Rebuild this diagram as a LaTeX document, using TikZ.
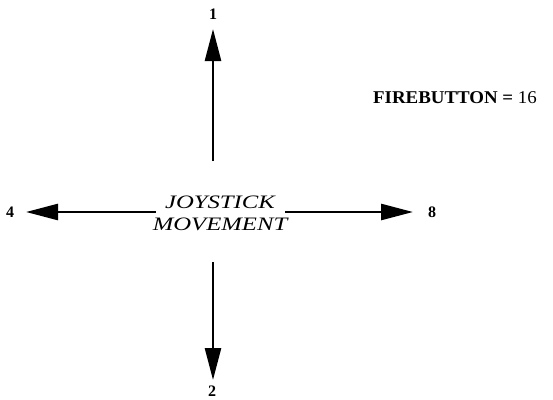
\documentclass[tikz,border=0pt]{standalone}
\usepackage{fontspec}
\setmainfont{Liberation Serif}
\usetikzlibrary{arrows.meta}

\begin{document}
\begin{tikzpicture}[x=1pt, y=-1pt, every node/.style={font=\fontsize{16}{17}\selectfont\bfseries}]
\useasboundingbox (0,0) rectangle (553,399);
\tikzset{dirarrow/.style={line width=2.6pt, -{Triangle[length=32pt, width=16pt]}}}
\node[font=\fontsize{19}{22}\selectfont\itshape, align=center, xscale=1.3, transform shape, inner sep=0pt] (jm) at (220,213) {JOYSTICK\\MOVEMENT};
\node[font=\fontsize{18}{18}\selectfont\bfseries, xscale=1.05, transform shape] (fb) at (455,98) {FIREBUTTON = {\mdseries 16}};
\node (up) at (213,14) {1};
\node (down) at (212,391) {2};
\node (left) at (10,212) {4};
\node (right) at (432,212) {8};
\coordinate (upstart) at (213,161);
\coordinate (uptip) at (213,29);
\coordinate (downstart) at (213,262);
\coordinate (downtip) at (213,380);
\coordinate (leftstart) at (156,212);
\coordinate (lefttip) at (26,212);
\coordinate (rightstart) at (285,212);
\coordinate (righttip) at (413,212);
\draw[dirarrow] (upstart) -- (uptip);
\draw[dirarrow] (downstart) -- (downtip);
\draw[dirarrow] (leftstart) -- (lefttip);
\draw[dirarrow] (rightstart) -- (righttip);
\end{tikzpicture}
\end{document}
